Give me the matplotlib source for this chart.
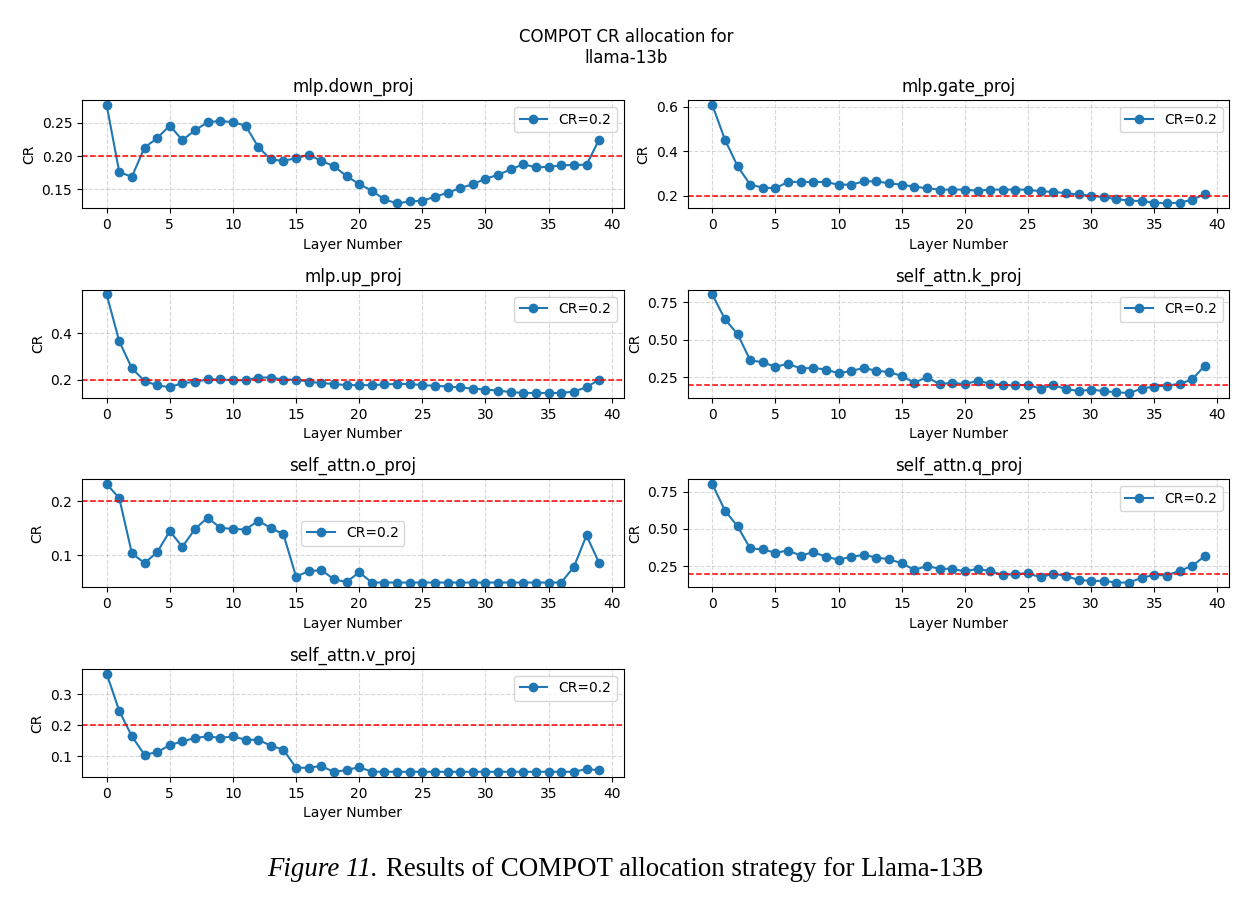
import matplotlib
matplotlib.use("Agg")
import matplotlib.pyplot as plt

layers = list(range(40))

down_proj = [0.277, 0.176, 0.169, 0.213, 0.227, 0.246, 0.224, 0.239, 0.251, 0.253,
             0.251, 0.246, 0.214, 0.195, 0.193, 0.197, 0.202, 0.193, 0.185, 0.170,
             0.158, 0.148, 0.135, 0.129, 0.132, 0.133, 0.139, 0.145, 0.152, 0.158,
             0.166, 0.172, 0.180, 0.188, 0.183, 0.184, 0.186, 0.187, 0.187, 0.225]

gate_proj = [0.608, 0.452, 0.333, 0.250, 0.237, 0.234, 0.263, 0.262, 0.262, 0.262,
             0.250, 0.250, 0.265, 0.265, 0.256, 0.250, 0.241, 0.234, 0.228, 0.228,
             0.228, 0.223, 0.228, 0.228, 0.228, 0.228, 0.220, 0.218, 0.212, 0.206,
             0.200, 0.194, 0.185, 0.179, 0.176, 0.170, 0.166, 0.170, 0.182, 0.208]

up_proj = [0.569, 0.366, 0.249, 0.194, 0.175, 0.167, 0.185, 0.190, 0.201, 0.201,
           0.197, 0.197, 0.209, 0.209, 0.200, 0.200, 0.191, 0.185, 0.181, 0.176,
           0.176, 0.176, 0.179, 0.181, 0.181, 0.176, 0.173, 0.170, 0.166, 0.161,
           0.157, 0.152, 0.146, 0.142, 0.142, 0.142, 0.142, 0.148, 0.167, 0.200]

k_proj = [0.800, 0.635, 0.536, 0.362, 0.348, 0.318, 0.339, 0.307, 0.311, 0.300,
          0.275, 0.291, 0.311, 0.291, 0.284, 0.257, 0.212, 0.250, 0.203, 0.212,
          0.203, 0.225, 0.207, 0.196, 0.196, 0.198, 0.173, 0.196, 0.171, 0.157,
          0.166, 0.157, 0.148, 0.144, 0.173, 0.187, 0.193, 0.205, 0.234, 0.327]

o_proj = [0.232, 0.206, 0.104, 0.086, 0.106, 0.145, 0.116, 0.149, 0.170, 0.151,
          0.149, 0.148, 0.164, 0.151, 0.139, 0.061, 0.071, 0.073, 0.056, 0.051,
          0.069, 0.050, 0.050, 0.050, 0.050, 0.050, 0.050, 0.050, 0.050, 0.050,
          0.050, 0.050, 0.050, 0.050, 0.050, 0.050, 0.050, 0.079, 0.137, 0.086]

q_proj = [0.800, 0.623, 0.517, 0.370, 0.363, 0.341, 0.356, 0.322, 0.345, 0.314,
          0.295, 0.314, 0.327, 0.309, 0.298, 0.270, 0.227, 0.252, 0.234, 0.234,
          0.216, 0.234, 0.218, 0.193, 0.198, 0.205, 0.176, 0.202, 0.184, 0.160,
          0.153, 0.153, 0.142, 0.142, 0.174, 0.193, 0.189, 0.221, 0.252, 0.320]

v_proj = [0.366, 0.246, 0.164, 0.105, 0.113, 0.136, 0.148, 0.159, 0.164, 0.159,
          0.164, 0.153, 0.153, 0.134, 0.121, 0.063, 0.063, 0.069, 0.049, 0.056,
          0.065, 0.050, 0.050, 0.050, 0.050, 0.050, 0.050, 0.050, 0.050, 0.050,
          0.050, 0.050, 0.050, 0.050, 0.050, 0.050, 0.050, 0.050, 0.059, 0.055]

names = ["mlp.down_proj", "mlp.gate_proj", "mlp.up_proj", "self_attn.k_proj",
         "self_attn.o_proj", "self_attn.q_proj", "self_attn.v_proj"]
series = [down_proj, gate_proj, up_proj, k_proj, o_proj, q_proj, v_proj]
target_cr = 0.2

fig, axes = plt.subplots(4, 2, figsize=(12.52, 9.01), dpi=100)
fig.subplots_adjust(left=0.0655, right=0.982, top=0.889, bottom=0.1376,
                    hspace=0.75, wspace=0.118)
fig.suptitle("COMPOT CR allocation for\nllama-13b", fontsize=12, y=0.969)

for ax, name, vals in zip(axes.flat, names, series):
    ax.plot(layers, vals, marker="o", color="#1f77b4", label=f"CR={target_cr}")
    ax.axhline(target_cr, color="red", linestyle="--", linewidth=1.1)
    ax.set_title(name, fontsize=12)
    ax.set_xlabel("Layer Number")
    ax.set_ylabel("CR")
    ax.grid(True, linestyle="--", alpha=0.5)
    ax.legend(loc="best")

axes[3, 1].remove()

# caption below the figure
fig.text(378 / 1252, 1 - 870 / 901, "Figure 11.", ha="right", va="center",
         fontsize=19.4, family="Liberation Serif", style="italic")
fig.text(386 / 1252, 1 - 870 / 901, "Results of COMPOT allocation strategy for Llama-13B",
         ha="left", va="center", fontsize=19.4, family="Liberation Serif")

plt.savefig("out.png", dpi=100)
